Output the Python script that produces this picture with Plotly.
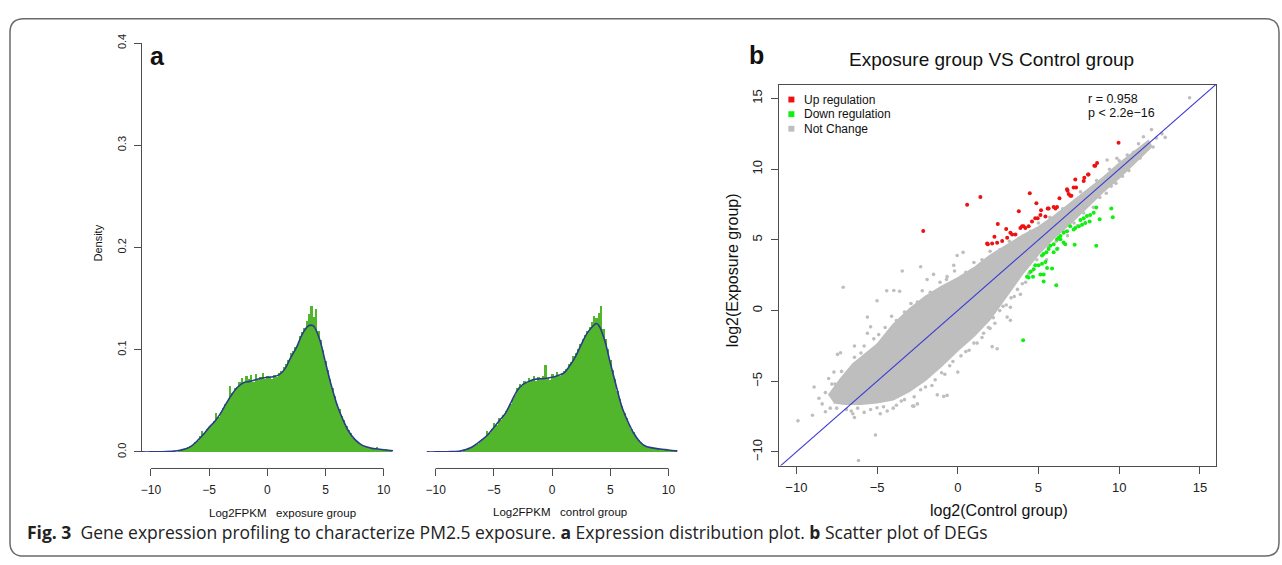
import plotly.graph_objects as go

W, H = 1282, 565
def fx(px): return px / W
def fy(py): return 1 - py / H

# ---------------- data: expression distribution (panel a) ----------------
BIN_START = -7.6   # centre of first histogram bin
BIN_W = 0.2
EXP_HIST = [0.002, 0.002, 0.003, 0.003, 0.005, 0.006, 0.007, 0.010, 0.011, 0.016,
            0.020, 0.018, 0.022, 0.024, 0.026, 0.030, 0.038, 0.034, 0.039, 0.043,
            0.047, 0.050, 0.064, 0.058, 0.062, 0.063, 0.068, 0.072, 0.067, 0.074,
            0.071, 0.075, 0.068, 0.076, 0.070, 0.073, 0.077, 0.071, 0.074, 0.072,
            0.071, 0.075, 0.073, 0.077, 0.079, 0.083, 0.086, 0.090, 0.097, 0.099,
            0.103, 0.106, 0.113, 0.117, 0.121, 0.128, 0.135, 0.143, 0.132, 0.140,
            0.118, 0.109, 0.100, 0.089, 0.080, 0.071, 0.062, 0.055, 0.047, 0.042,
            0.035, 0.031, 0.025, 0.021, 0.018, 0.014, 0.012, 0.010, 0.008, 0.007,
            0.005, 0.005, 0.004, 0.004, 0.003, 0.005, 0.003, 0.003, 0.002, 0.003,
            0.002, 0.001]
CTL_HIST = [0.002, 0.002, 0.003, 0.004, 0.005, 0.007, 0.008, 0.010, 0.013, 0.015,
            0.020, 0.018, 0.022, 0.028, 0.026, 0.033, 0.031, 0.036, 0.040, 0.043,
            0.047, 0.052, 0.056, 0.062, 0.066, 0.064, 0.069, 0.067, 0.072, 0.070,
            0.074, 0.069, 0.073, 0.071, 0.074, 0.085, 0.072, 0.070, 0.076, 0.073,
            0.078, 0.074, 0.077, 0.079, 0.081, 0.086, 0.088, 0.094, 0.097, 0.101,
            0.106, 0.110, 0.114, 0.118, 0.122, 0.127, 0.133, 0.131, 0.136, 0.143,
            0.120, 0.110, 0.101, 0.090, 0.080, 0.071, 0.060, 0.052, 0.045, 0.038,
            0.033, 0.027, 0.022, 0.019, 0.015, 0.012, 0.009, 0.008, 0.006, 0.005,
            0.005, 0.004, 0.004, 0.003, 0.003, 0.003, 0.003, 0.002, 0.002, 0.002,
            0.002, 0.001]
DENS_X = [-10.8, -10, -9, -8, -7.5, -7, -6.5, -6, -5.5, -5, -4.5, -4, -3.5, -3, -2.5, -2,
          -1.5, -1, -0.5, 0, 0.5, 1, 1.5, 2, 2.5, 3, 3.5, 3.8, 4, 4.5, 5, 5.5, 6, 6.5,
          7, 7.5, 8, 8.5, 9, 9.5, 10, 10.8]
EXP_DENS = [0.0, 0.0, 0.0002, 0.0008, 0.0016, 0.003, 0.006, 0.011, 0.017, 0.024, 0.030,
            0.038, 0.048, 0.057, 0.064, 0.068, 0.069, 0.0706, 0.072, 0.073, 0.0735, 0.0754,
            0.081, 0.092, 0.102, 0.115, 0.123, 0.124, 0.123, 0.110, 0.0875, 0.065, 0.046,
            0.0316, 0.020, 0.0125, 0.0077, 0.005, 0.0035, 0.0029, 0.0022, 0.0012]
CTL_DENS = [0.0, 0.0, 0.0002, 0.0006, 0.002, 0.004, 0.0077, 0.012, 0.017, 0.024, 0.031,
            0.038, 0.049, 0.060, 0.066, 0.069, 0.071, 0.0716, 0.072, 0.073, 0.0748, 0.077,
            0.084, 0.093, 0.105, 0.116, 0.123, 0.1256, 0.124, 0.110, 0.087, 0.065, 0.044,
            0.030, 0.0185, 0.0105, 0.0058, 0.0042, 0.0032, 0.0026, 0.0019, 0.001]
HIST_XTICKS = [-10, -5, 0, 5, 10]
HIST_YTICKS = [0.0, 0.1, 0.2, 0.3, 0.4]

# ---------------- data: scatter (panel b), (control, exposure) ----------------
# outline of the dense core of the "Not Change" cloud
CORE_PTS = [(-8.0, -6.0), (-7.3, -4.9), (-6.5, -3.8), (-5.5, -2.9), (-5.0, -2.4), (-4.0, -1.0),
            (-3.0, 0.1), (-2.0, 1.0), (-1.0, 1.7), (0.0, 2.3), (1.0, 3.0), (2.0, 3.9),
            (3.0, 4.6), (4.0, 5.3), (5.0, 5.9), (6.0, 6.7), (7.0, 7.6), (8.0, 8.5), (9.0, 9.4),
            (10.0, 10.4), (11.0, 11.3), (11.8, 12.0),
            (12.0, 11.6), (11.0, 10.5), (10.0, 9.4), (9.0, 8.4), (8.0, 7.3), (7.0, 6.2),
            (6.0, 5.2), (5.0, 4.0), (4.0, 2.6), (3.0, 1.0), (2.0, -0.6), (1.0, -1.8),
            (0.0, -2.8), (-1.0, -3.9), (-2.0, -4.9), (-3.0, -5.7), (-4.0, -6.3), (-5.0, -6.5),
            (-6.0, -6.6), (-7.0, -6.6), (-7.7, -6.5)]
GREY_PTS = [(-3.44, 2.8), (-2.3, 3.1), (-7.1, 1.65), (-9.9, -7.8), (-8.9, -5.4), (-8.6, -6.2),
            (-8.2, -7.15), (-7.45, -3.1), (-5.1, -8.8), (-6.15, -10.6), (-6.5, -7.3), (-5.0, 0.7),
            (-4.4, 1.4), (-5.6, -1.6), (3.26, -0.69), (2.44, -2.7), (2.13, -2.55), (0.0, -4.35),
            (-0.66, -6.0), (-1.27, -5.96), (-2.8, -6.75), (-2.5, -6.6), (-3.96, 1.42), (-3.6, 1.37),
            (0.33, 4.12), (-0.04, 3.9), (-0.25, 3.2), (-1.5, 2.56), (-1.9, 2.2), (-0.66, 2.4),
            (0.89, 2.87), (1.4, 3.3), (-5.6, -0.46), (-5.4, -1.15), (-6.4, -2.5), (-7.26, -2.98),
            (-7.67, -4.35), (-6.4, -7.56), (-5.0, -6.87), (-4.37, -7.1), (-2.72, -6.76),
            (-0.87, -6.07), (2.0, -1.26), (3.26, 0.23), (3.06, -0.46), (3.88, 1.15), (2.44, 0.69),
            (10.9, 11.2), (10.5, 11.0), (14.36, 15.05), (12.85, 12.25), (12.1, 11.57),
            (12.65, 12.5), (9.86, 10.77), (9.25, 10.65),
            (-7.8, -5.2), (-7.2, -4.3), (-6.9, -4.6), (-6.4, -3.3), (-6.0, -3.0), (-5.8, -2.5),
            (-5.2, -2.0), (-4.9, -1.7), (-4.5, -1.2), (-4.1, -0.4), (-3.8, -0.7), (-3.3, -0.1),
            (-2.9, 0.5), (-2.5, 0.6), (-2.2, 1.4), (-1.7, 1.3), (-1.1, 2.0), (-0.7, 2.2),
            (-0.2, 2.8), (0.5, 2.7), (1.0, 3.4), (1.5, 3.6), (2.0, 4.2), (2.6, 4.3), (3.2, 4.9),
            (3.8, 5.1), (4.5, 5.6), (5.0, 6.2), (5.7, 6.6), (6.5, 7.2), (7.6, 8.4), (8.6, 9.2),
            (9.4, 10.0), (10.0, 10.6), (11.2, 11.8), (11.5, 12.3), (12.3, 12.2), (12.0, 12.8),
            (-7.5, -6.9), (-6.9, -7.0), (-6.2, -6.9), (-5.4, -7.0), (-4.6, -6.8), (-3.8, -6.7),
            (-3.5, -6.4), (-2.7, -6.1), (-2.0, -5.4), (-1.4, -4.9), (-1.0, -4.4), (-0.5, -3.9),
            (0.2, -3.2), (0.7, -2.8), (1.0, -2.3), (1.5, -1.9), (1.9, -1.2), (2.2, -0.5),
            (2.6, 0.0), (3.0, 0.4), (3.3, 0.9), (3.7, 1.5), (4.0, 1.9), (4.4, 2.6), (4.9, 3.6),
            (5.6, 4.5), (6.1, 4.9), (6.6, 5.6), (7.2, 6.2), (7.8, 6.9), (8.8, 8.0), (9.5, 8.8),
            (10.2, 9.5), (10.6, 9.9), (11.3, 10.8),
            (-8.2, -5.8), (-8.0, -4.8), (-7.6, -5.2), (-8.4, -6.6), (-7.9, -6.9), (-9.0, -7.4),
            (-6.6, -7.1), (-5.8, -7.2), (-4.8, -7.3), (-4.0, -6.9), (-3.3, -6.3), (-2.3, -5.6),
            (-1.6, -5.3), (-0.8, -4.5), (-0.3, -3.6), (0.5, -2.9), (1.2, -2.3), (1.6, -1.6),
            (2.3, -0.9), (2.8, 0.3), (3.5, 1.0), (4.2, 2.0), (4.6, 2.8), (5.5, 3.6), (6.2, 4.4),
            (6.8, 5.3), (7.4, 6.0), (8.4, 7.3), (9.2, 8.3), (9.8, 9.0)]
UP_PTS = [(-2.14, 5.63), (0.58, 7.49), (1.4, 8.04), (2.48, 6.12), (2.27, 5.22), (1.82, 4.74),
          (2.13, 4.74), (2.44, 4.8), (2.75, 4.93), (3.06, 5.15), (3.26, 5.5), (3.57, 5.38),
          (3.98, 5.96), (4.19, 5.84), (4.46, 8.3), (3.78, 7.03), (4.6, 6.3), (4.8, 6.53),
          (5.12, 6.76), (5.43, 6.65), (4.87, 7.6), (5.63, 7.22), (5.94, 7.33), (6.05, 7.22),
          (5.16, 7.1), (6.3, 7.95), (6.77, 8.59), (6.87, 8.25), (7.18, 8.71), (7.28, 9.28),
          (6.97, 8.13), (8.07, 9.62), (7.8, 9.16), (8.52, 10.24), (8.63, 10.43), (9.96, 11.87),
          (1.86, 4.7), (3.37, 5.38), (3.88, 5.84), (4.08, 5.96), (4.39, 5.96), (4.95, 6.53),
          (5.57, 7.22), (6.15, 7.33), (6.8, 8.47), (7.04, 8.13), (7.33, 8.7), (7.84, 9.39),
          (8.1, 9.62), (8.46, 10.24), (3.0, 5.77)]
DOWN_PTS = [(9.51, 7.22), (9.6, 6.6), (8.58, 4.58), (8.79, 6.46), (8.58, 7.29), (8.42, 6.92),
            (8.2, 6.76), (8.0, 6.69), (7.8, 6.53), (7.6, 6.41), (8.17, 6.3), (7.9, 6.19),
            (7.7, 6.07), (7.5, 5.96), (7.28, 5.84), (7.18, 5.73), (6.97, 5.96), (6.77, 5.62),
            (6.56, 5.5), (6.36, 5.27), (6.25, 5.15), (6.15, 5.04), (6.36, 5.04), (7.24, 4.65),
            (6.56, 4.81), (6.66, 4.7), (5.94, 4.7), (5.74, 4.58), (5.63, 4.35), (5.49, 4.12),
            (5.32, 4.0), (5.22, 3.9), (5.94, 4.12), (6.15, 4.35), (5.43, 3.44), (5.22, 3.32),
            (5.01, 3.21), (4.8, 3.21), (4.7, 2.93), (4.5, 2.75), (4.29, 2.4), (4.39, 2.34),
            (4.66, 2.4), (5.84, 2.98), (5.53, 3.02), (5.32, 2.56), (5.32, 2.06), (6.1, 1.79),
            (5.12, 2.56), (4.05, -2.1)]
DIAG = [-12, 17]
SC_TICKS = [-10, -5, 0, 5, 10, 15]
LEGEND_LABELS = ["Up regulation", "Down regulation", "Not Change"]

GREEN = "#52b62c"
NAVY = "#2b3b8c"
GREY = "#bebebe"
RED = "#ee1111"
LIME = "#11ee11"
AX = "#4d4d4d"
RFONT = "Liberation Sans, Arial, sans-serif"

def xs(pts): return [p[0] for p in pts]
def ys(pts): return [p[1] for p in pts]

fig = go.Figure()

# panel a
fig.add_trace(go.Bar(x0=BIN_START, dx=BIN_W, y=EXP_HIST, marker=dict(color=GREEN, line=dict(width=0)),
                     xaxis="x", yaxis="y", showlegend=False, hoverinfo="skip"))
fig.add_trace(go.Scatter(x=DENS_X, y=EXP_DENS, mode="lines", line=dict(color=NAVY, width=1.6, shape="spline"),
                         xaxis="x", yaxis="y", showlegend=False))
fig.add_trace(go.Bar(x0=BIN_START, dx=BIN_W, y=CTL_HIST, marker=dict(color=GREEN, line=dict(width=0)),
                     xaxis="x2", yaxis="y2", showlegend=False, hoverinfo="skip"))
fig.add_trace(go.Scatter(x=DENS_X, y=CTL_DENS, mode="lines", line=dict(color=NAVY, width=1.6, shape="spline"),
                         xaxis="x2", yaxis="y2", showlegend=False))

# panel b
fig.add_trace(go.Scatter(x=xs(CORE_PTS), y=ys(CORE_PTS), mode="lines", fill="toself", fillcolor=GREY,
                         line=dict(color=GREY, width=2),
                         xaxis="x3", yaxis="y3", showlegend=False, hoverinfo="skip"))
fig.add_trace(go.Scatter(x=xs(GREY_PTS), y=ys(GREY_PTS), mode="markers", marker=dict(color=GREY, size=3.6),
                         xaxis="x3", yaxis="y3", showlegend=False))
fig.add_trace(go.Scatter(x=xs(UP_PTS), y=ys(UP_PTS), mode="markers", marker=dict(color=RED, size=4),
                         xaxis="x3", yaxis="y3", showlegend=False))
fig.add_trace(go.Scatter(x=xs(DOWN_PTS), y=ys(DOWN_PTS), mode="markers", marker=dict(color=LIME, size=4),
                         xaxis="x3", yaxis="y3", showlegend=False))
fig.add_trace(go.Scatter(x=DIAG, y=DIAG, mode="lines", line=dict(color="#3c3cd2", width=1.1),
                         xaxis="x3", yaxis="y3", showlegend=False))

tickfont = dict(family=RFONT, size=12, color="#222")
hist_x_common = dict(anchor="free", position=fy(472), showline=False, ticks="outside", ticklen=7,
                     tickcolor=AX, tickwidth=1, tickvals=HIST_XTICKS, tickfont=tickfont,
                     showgrid=False, zeroline=False, ticklabelstandoff=3)
fig.update_layout(
    width=W, height=H, margin=dict(l=0, r=0, t=0, b=0),
    paper_bgcolor="white", plot_bgcolor="rgba(0,0,0,0)",
    bargap=0, showlegend=False,
    xaxis=dict(domain=[fx(140), fx(393)], range=[-10.86, 10.86], **hist_x_common),
    yaxis=dict(domain=[fy(455), fy(35)], range=[0, 0.4], anchor="free", position=fx(140),
               showline=True, linecolor=AX, linewidth=1, ticks="outside", ticklen=7, tickcolor=AX,
               tickvals=HIST_YTICKS, tickformat=".1f", tickangle=-90,
               tickfont=dict(family=RFONT, size=11, color="#222"),
               showgrid=False, zeroline=False, ticklabelstandoff=4),
    xaxis2=dict(domain=[fx(426), fx(677)], range=[-10.77, 10.77], **hist_x_common),
    yaxis2=dict(domain=[fy(455), fy(35)], range=[0, 0.4], anchor="x2", visible=False),
    xaxis3=dict(domain=[fx(779), fx(1216)], range=[-11.05, 16.0], anchor="y3",
                showline=True, mirror=True, linecolor=AX, linewidth=1.3, ticks="outside", ticklen=7,
                tickcolor=AX, tickvals=SC_TICKS, tickfont=dict(family=RFONT, size=13, color="#222"),
                showgrid=False, zeroline=False, ticklabelstandoff=3),
    yaxis3=dict(domain=[fy(469), fy(78)], range=[-10.96, 15.96], anchor="x3",
                showline=True, mirror=True, linecolor=AX, linewidth=1.3, ticks="outside", ticklen=7,
                tickcolor=AX, tickvals=SC_TICKS, tickangle=-90,
                tickfont=dict(family=RFONT, size=13, color="#222"),
                showgrid=False, zeroline=False, ticklabelstandoff=4),
)

# horizontal axis lines of the histograms (R style: from first to last tick)
shapes = []
for xr in ["x", "x2"]:
    shapes.append(dict(type="line", xref=xr, yref="paper", x0=HIST_XTICKS[0], x1=HIST_XTICKS[-1],
                       y0=fy(472), y1=fy(472), line=dict(color=AX, width=1)))

# rounded figure frame
L, R, T, B, r = 9, 1279, 10, 562, 14
path = (f"M {fx(L+r)},{fy(T)} L {fx(R-r)},{fy(T)} Q {fx(R)},{fy(T)} {fx(R)},{fy(T+r)} "
        f"L {fx(R)},{fy(B-r)} Q {fx(R)},{fy(B)} {fx(R-r)},{fy(B)} "
        f"L {fx(L+r)},{fy(B)} Q {fx(L)},{fy(B)} {fx(L)},{fy(B-r)} "
        f"L {fx(L)},{fy(T+r)} Q {fx(L)},{fy(T)} {fx(L+r)},{fy(T)} Z")
shapes.append(dict(type="path", xref="paper", yref="paper", path=path,
                   line=dict(color="#6a6a6a", width=1.5)))

# legend squares
leg_cols = [RED, LIME, GREY]
leg_rows = [93, 108, 123]
for c, ry in zip(leg_cols, leg_rows):
    shapes.append(dict(type="rect", xref="paper", yref="paper", x0=fx(788), x1=fx(794),
                       y0=fy(ry + 3), y1=fy(ry - 3), fillcolor=c, line=dict(width=0)))
fig.update_layout(shapes=shapes)

ann = []
def add_text(px, py, text, size, xanchor="center", angle=0, family=RFONT, color="#111"):
    ann.append(dict(x=fx(px), y=fy(py), xref="paper", yref="paper", text=text, showarrow=False,
                    xanchor=xanchor, yanchor="middle", textangle=angle,
                    font=dict(family=family, size=size, color=color)))

add_text(157, 48, "<b>a</b>", 25)
add_text(756, 47, "<b>b</b>", 25)
add_text(97, 240, "Density", 11, angle=-90)
add_text(282, 518, "Log2FPKM\u00a0\u00a0\u00a0exposure group", 11.5)
add_text(559, 517, "Log2FPKM\u00a0\u00a0\u00a0control group", 11.5)
add_text(991, 52, "Exposure group VS Control group", 19)
add_text(999, 515, "log2(Control group)", 16)
add_text(732, 268, "log2(Exposure group)", 16, angle=-90)
for lab, ry in zip(LEGEND_LABELS, leg_rows):
    add_text(802, ry, lab, 12, xanchor="left")
add_text(1086, 92, "r = 0.958", 12.5, xanchor="left")
add_text(1086, 107, "p &lt; 2.2e\u221216", 12.5, xanchor="left")
add_text(24, 537, "<b>Fig. 3</b>\u00a0\u00a0Gene expression profiling to characterize PM2.5 exposure. "
         "<b>a</b> Expression distribution plot. <b>b</b> Scatter plot of DEGs",
         17.5, xanchor="left", family="Open Sans", color="#222")
fig.update_layout(annotations=ann)

fig.write_html("out.html",
               post_script="document.body.style.margin='0px';document.body.style.padding='0px';")
